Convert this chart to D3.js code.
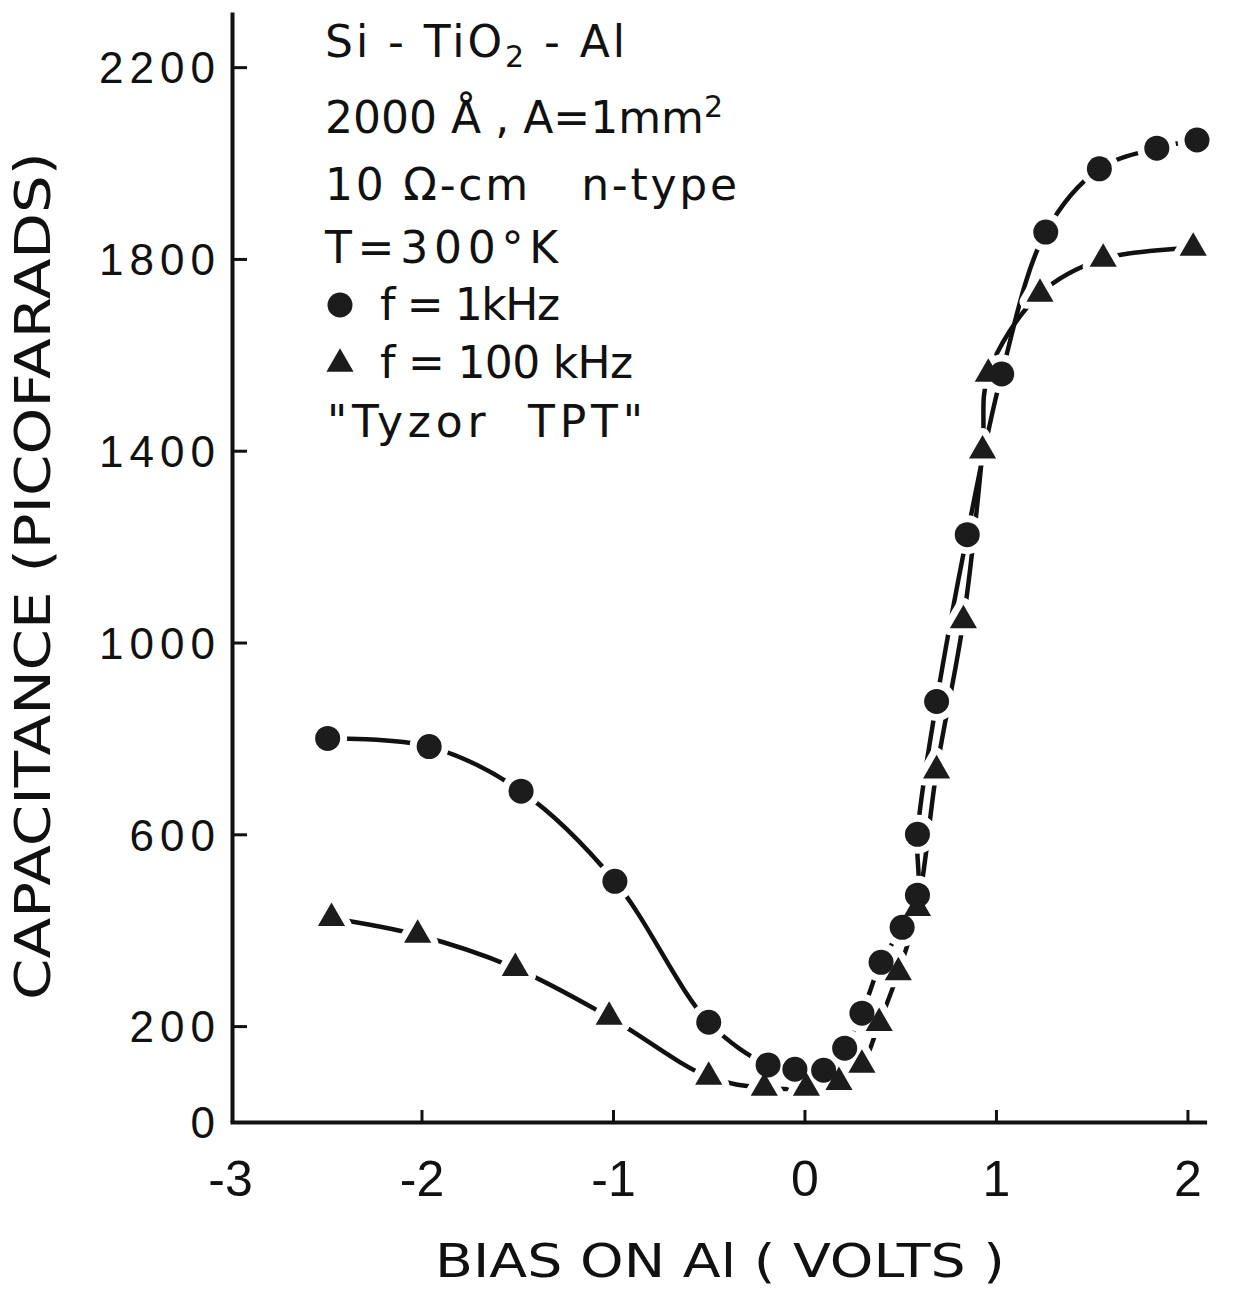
<!DOCTYPE html>
<html>
<head>
<meta charset="utf-8">
<script src="https://cdn.jsdelivr.net/npm/d3@7"></script>
<style>
  body { margin: 0; background: #fff; }
  svg { display: block; font-family: "DejaVu Sans", sans-serif; }
  text { white-space: pre; }
</style>
</head>
<body>
<div id="chart"></div>
<script>
const width = 1236;
const height = 1290;

// f = 1 kHz (circles)
const biasCircle = [-2.49, -1.96, -1.48, -0.99, -0.50, -0.19, -0.05, 0.10, 0.21, 0.30, 0.40, 0.51, 0.59, 0.59, 0.69, 0.85, 1.03, 1.26, 1.54, 1.84, 2.05];
const capCircle = [800, 783, 690, 502, 208, 119, 110, 108, 154, 227, 333, 406, 473, 600, 877, 1225, 1560, 1856, 1988, 2031, 2048];

// f = 100 kHz (triangles)
const biasTri = [-2.47, -2.02, -1.51, -1.02, -0.50, -0.21, 0.01, 0.18, 0.30, 0.39, 0.49, 0.59, 0.69, 0.83, 0.93, 0.96, 1.23, 1.56, 2.03];
const capTri = [425, 390, 321, 219, 94, 71, 71, 83, 119, 206, 312, 446, 733, 1046, 1400, 1560, 1727, 1800, 1823];

const xTicks = [-3, -2, -1, 0, 1, 2];
const xTickLabels = ["-3", "-2", "-1", "0", "1", "2"];
const yTicks = [0, 200, 600, 1000, 1400, 1800, 2200];

const notes = ["Si - TiO", "2000 Å , A=1mm", "10 Ω-cm   n-type", "T=300°K", "f = 1kHz", "f = 100 kHz", "\"Tyzor  TPT\""];

const x = d3.scaleLinear().domain([-3, 2.1]).range([230, 1206.6]);
const y = d3.scaleLinear().domain([0, 2315]).range([1122, 12]);

const svg = d3.select("#chart")
  .append("svg")
  .attr("width", width)
  .attr("height", height);

const ink = "#111";

// axes
const yAxis = svg.append("g")
  .attr("transform", `translate(${x(-3) + 2},0)`)
  .call(d3.axisLeft(y).tickValues(yTicks).tickFormat(d3.format("d"))
    .tickSize(-15).tickSizeOuter(0).tickPadding(11));
yAxis.select(".domain").attr("stroke", ink).attr("stroke-width", 4);
yAxis.selectAll(".tick line").attr("stroke", ink).attr("stroke-width", 3)
  .attr("display", d => d === 0 ? "none" : null);
yAxis.selectAll(".tick text")
  .attr("fill", ink)
  .style("font-size", "44px")
  .style("letter-spacing", "6px")
  .attr("dy", "0.36em");

const xAxis = svg.append("g")
  .attr("transform", `translate(0,${y(0)})`)
  .call(d3.axisBottom(x).tickValues(xTicks).tickSize(-12).tickSizeOuter(0)
    .tickFormat((d, i) => xTickLabels[i]));
xAxis.select(".domain").attr("stroke", ink).attr("stroke-width", 4);
xAxis.selectAll(".tick line").attr("stroke", ink).attr("stroke-width", 3)
  .attr("display", d => d === -3 ? "none" : null);
xAxis.selectAll(".tick text")
  .attr("fill", ink)
  .attr("y", 74)
  .attr("dy", null)
  .style("font-size", "50px");

svg.append("text")
  .attr("x", 720)
  .attr("y", 1277)
  .attr("text-anchor", "middle")
  .attr("fill", ink)
  .style("font-size", "47px")
  .attr("textLength", 570)
  .attr("lengthAdjust", "spacingAndGlyphs")
  .text("BIAS ON Al ( VOLTS )");

svg.append("text")
  .attr("transform", "translate(50,576) rotate(-90)")
  .attr("text-anchor", "middle")
  .attr("fill", ink)
  .style("font-size", "50px")
  .attr("textLength", 848)
  .attr("lengthAdjust", "spacingAndGlyphs")
  .text("CAPACITANCE (PICOFARADS)");

// curves
const line = d3.line()
  .x(d => x(d[0]))
  .y(d => y(d[1]))
  .curve(d3.curveCatmullRom.alpha(0.5));

const circles = biasCircle.map((b, i) => [b, capCircle[i]]);
const tris = biasTri.map((b, i) => [b, capTri[i]]);

const curves = svg.append("g");
[circles, tris].forEach(pts => {
  curves.append("path")
    .datum(pts)
    .attr("d", line)
    .attr("fill", "none")
    .attr("stroke", ink)
    .attr("stroke-width", 4.5)
    .attr("stroke-linecap", "round");
});

const triPath = d3.symbol().type(d3.symbolTriangle).size(320)();

// white halos first, so curves break near every marker
const halo = svg.append("g");
halo.selectAll(".halo-c")
  .data(circles)
  .enter()
  .append("circle")
  .attr("cx", d => x(d[0]))
  .attr("cy", d => y(d[1]))
  .attr("r", 12.5)
  .attr("fill", "#fff")
  .attr("stroke", "#fff")
  .attr("stroke-width", 14);
halo.selectAll(".halo-t")
  .data(tris)
  .enter()
  .append("path")
  .attr("d", triPath)
  .attr("transform", d => `translate(${x(d[0])},${y(d[1])})`)
  .attr("fill", "#fff")
  .attr("stroke", "#fff")
  .attr("stroke-width", 14)
  .attr("stroke-linejoin", "round");

const marks = svg.append("g");
marks.selectAll(".circle")
  .data(circles)
  .enter()
  .append("circle")
  .classed("circle", true)
  .attr("cx", d => x(d[0]))
  .attr("cy", d => y(d[1]))
  .attr("r", 12.5)
  .attr("fill", "#1c1c1c");
marks.selectAll(".tri")
  .data(tris)
  .enter()
  .append("path")
  .classed("tri", true)
  .attr("d", triPath)
  .attr("transform", d => `translate(${x(d[0])},${y(d[1])})`)
  .attr("fill", "#1c1c1c");

// annotation block
const note = svg.append("g")
  .attr("fill", ink)
  .style("font-size", "44px");

const l1 = note.append("text").attr("x", 325).attr("y", 57)
  .attr("textLength", 300).attr("lengthAdjust", "spacing");
l1.append("tspan").text(notes[0]);
l1.append("tspan").attr("dy", 10).style("font-size", "30px").text("2");
l1.append("tspan").attr("dy", -10).text(" - Al");

const l2 = note.append("text").attr("x", 325).attr("y", 133)
  .attr("textLength", 398).attr("lengthAdjust", "spacing");
l2.append("tspan").text(notes[1]);
l2.append("tspan").attr("dy", -16).style("font-size", "30px").text("2");

note.append("text").attr("x", 325).attr("y", 200)
  .attr("textLength", 412).attr("lengthAdjust", "spacing")
  .text(notes[2]);
note.append("text").attr("x", 325).attr("y", 263)
  .attr("textLength", 233).attr("lengthAdjust", "spacing")
  .text(notes[3]);
note.append("text").attr("x", 380).attr("y", 320)
  .attr("textLength", 180).attr("lengthAdjust", "spacing")
  .text(notes[4]);
note.append("text").attr("x", 380).attr("y", 378)
  .attr("textLength", 253).attr("lengthAdjust", "spacing")
  .text(notes[5]);
note.append("text").attr("x", 327).attr("y", 437)
  .attr("textLength", 316).attr("lengthAdjust", "spacing")
  .text(notes[6]);

note.append("circle").attr("cx", 340).attr("cy", 305).attr("r", 12.5).attr("fill", "#1c1c1c");
note.append("path").attr("d", triPath).attr("transform", "translate(340,364)").attr("fill", "#1c1c1c");
</script>
</body>
</html>
